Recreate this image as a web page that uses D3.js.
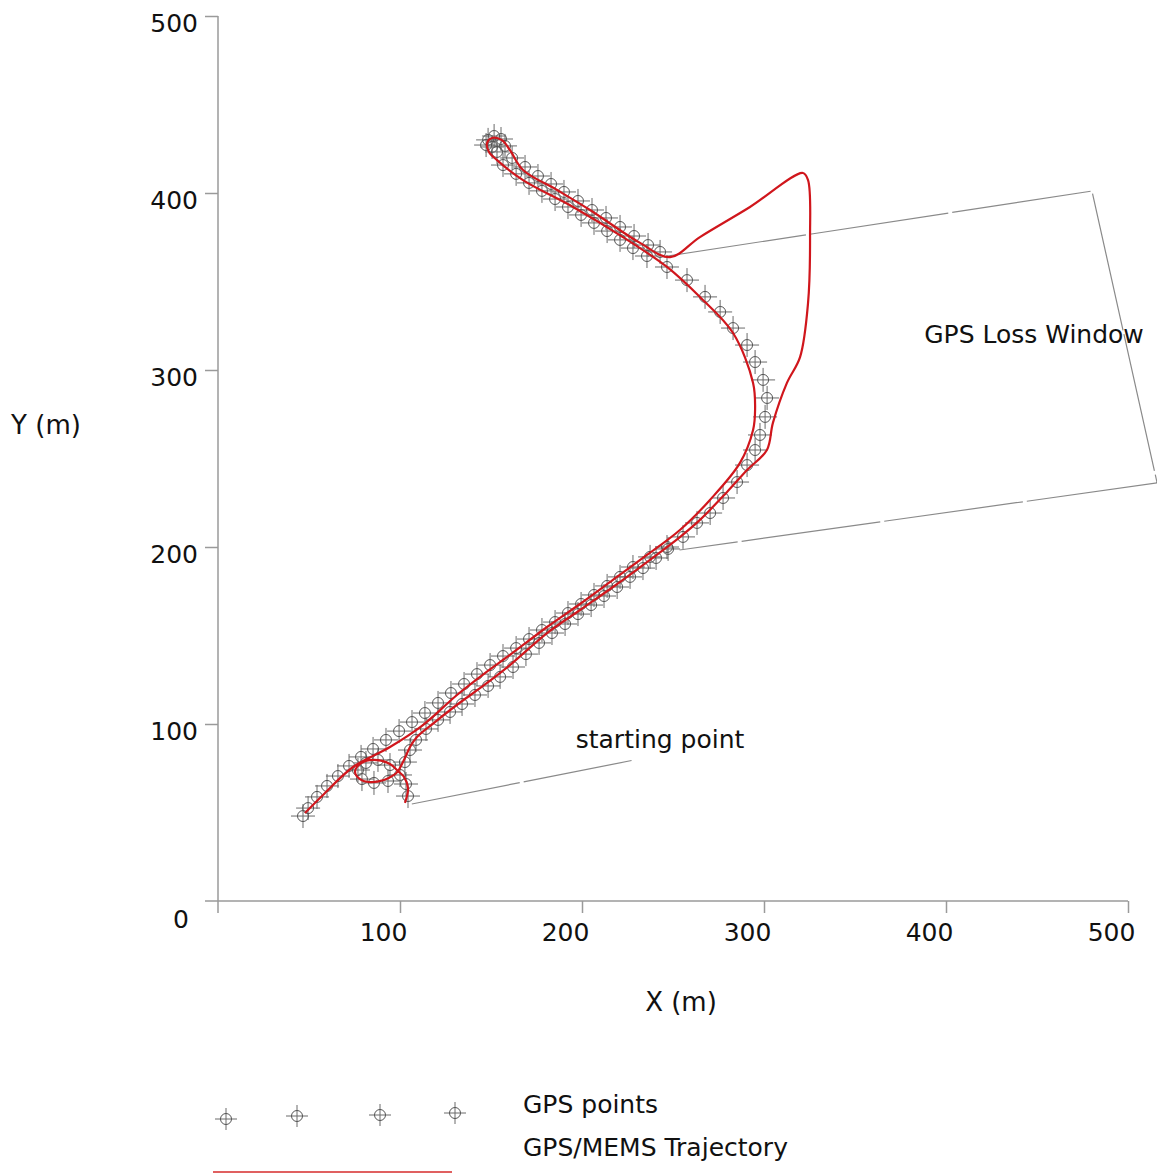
<!DOCTYPE html>
<html>
<head>
<meta charset="utf-8">
<script src="https://cdn.jsdelivr.net/npm/d3@7/dist/d3.min.js"></script>
<style>
  body { margin: 0; background: #fff; }
  text { font-family: "DejaVu Sans", Verdana, sans-serif; fill: #111; }
</style>
</head>
<body>
<svg id="chart" width="1157" height="1173"></svg>
<script>

// tick values on both axes
var xTicks = [100, 200, 300, 400, 500];
var yTicks = [100, 200, 300, 400, 500];

// GPS/MEMS trajectory (x, y in metres)
var memsTrajectory = [
  [102.7,55.4],[104.4,63.8],[102.2,70.1],[98.9,73.4],[94.5,77.4],[85.2,79.7],[78.0,77.4],
  [75.3,72.9],[78.0,68.9],[83.5,67.2],[91.2,68.4],[96.7,71.2],[98.9,73.4],[102.2,79.7],
  [105.5,87.0],[109.3,92.7],[119.2,101.1],[131.9,111.3],[145.6,121.5],[160.4,133.3],
  [180.8,151.4],[198.9,164.4],[217.0,177.4],[235.7,191.5],[253.8,205.6],[264.8,215.3],
  [279.7,231.1],[290.7,243.5],[301.6,254.8],[304.9,270.1],[312.6,292.7],[319.8,307.3],
  [324.2,337.9],[325.3,375.1],[324.2,407.3],[321.4,411.3],[292.3,392.1],[264.8,375.1],
  [248.4,363.8],[231.9,371.8],[204.4,390.4],[186.3,401.7],[167.6,413.0],[160.4,424.3],
  [156.0,429.9],[150.5,431.1],[147.8,428.2],[148.9,423.2],[153.3,418.6],[167.6,407.3],
  [195.1,392.1],[222.5,375.1],[246.7,358.2],[264.8,341.2],[283.0,320.9],[294.0,292.7],
  [295.1,277.4],[294.0,266.1],[286.8,247.5],[270.3,226.6],[253.8,209.6],[235.7,195.5],
  [217.0,181.4],[198.9,167.8],[180.8,154.8],[160.4,139.0],[146.7,128.8],[131.3,116.4],
  [112.6,99.4],[94.5,87.0],[74.2,75.7],[57.7,59.9],[47.8,49.7]
];

// GPS fixes on the way out, before the outage (start point + loop + lower track)
var gpsOutbound = [
  [104.4,59.3],[103.3,66.1],[100.0,71.2],[94.5,76.8],[87.9,79.7],[81.3,78.0],[76.9,74.0],
  [79.1,68.9],[85.7,66.7],[93.4,67.8],[102.7,78.5],[105.5,85.3],[108.8,91.0],[114.3,97.2],
  [120.9,102.3],[127.5,106.8],[134.1,111.3],[141.2,116.4],[148.4,121.5],[155.0,126.6],
  [162.1,132.2],[169.2,139.5],[176.4,145.8],[183.5,151.4],[190.7,156.5],[197.8,162.1],
  [205.0,167.2],[212.1,172.3],[219.3,177.4],[226.4,183.1],[233.5,188.1],[240.7,193.8],
  [247.3,198.9]
];

// GPS fixes after the outage, up to the turn
var gpsAfterLoss = [
  [242.9,366.7],[236.3,370.6],[228.6,375.7],[220.9,380.8],[213.2,385.9],[205.5,390.4],
  [197.8,395.5],[190.1,400.6],[183.0,405.1],[175.8,409.6],[168.7,414.7],[161.6,419.8]
];

// GPS fixes around the turn at the top
var gpsTurn = [
  [148.4,430.0],[151.7,432.2],[155.5,430.5],[157.7,426.6],[150.6,426.0],[153.3,423.2],[147.3,427.1]
];

// GPS fixes on the way back
var gpsReturn = [
  [156.6,415.8],[163.8,410.8],[170.9,405.7],[178.0,401.2],[185.2,396.6],[192.3,392.1],
  [199.5,387.6],[206.6,383.1],[213.8,378.5],[220.9,373.5],[228.0,368.9],[235.7,364.4],
  [246.7,358.2],[257.7,350.8],[267.6,341.3],[275.9,332.8],[283.0,323.7],[290.7,314.1],
  [295.1,304.5],[299.5,294.4],[301.7,284.2],[300.6,273.5],[297.8,263.3],[295.1,254.8],
  [290.7,246.3],[285.2,236.7],[277.5,227.7],[270.4,219.2],[263.2,213.6],[255.5,205.7],
  [246.7,200.0],[237.4,194.4],[228.0,188.7],[220.9,183.1],[213.8,178.0],[206.6,172.9],
  [199.5,167.8],[192.3,162.7],[185.2,157.6],[178.0,153.1],[170.9,148.0],[163.8,142.9],
  [156.6,138.4],[149.5,133.3],[142.3,128.2],[135.2,122.6],[128.0,117.5],[120.9,111.9],
  [113.7,106.2],[106.6,101.1],[99.5,96.0],[92.3,91.0],[85.2,85.9],[78.6,81.4],[72.0,76.3],
  [65.9,70.6],[59.9,65.0],[54.4,58.8],[49.5,52.5],[46.7,48.0]
];

// annotation geometry (data units)
var lossWindow = [[247.0,364.4],[480.2,401.1],[516.0,236.2],[253.6,198.3]];
var startLeader = [[106.5,54.8],[228.9,79.7]];

var svg = d3.select("#chart");

var x = d3.scaleLinear().domain([0, 500]).range([218, 1128]);
var y = d3.scaleLinear().domain([0, 500]).range([901, 16]);

var axisColor = "#9a9a9a";
var fontSize = "25px";

// axes
svg.append("line")
    .attr("x1", x(0)).attr("x2", x(0))
    .attr("y1", y(500)).attr("y2", y(0) + 12)
    .style("stroke", axisColor).style("stroke-width", 1.5);
svg.append("line")
    .attr("x1", x(0) - 13).attr("x2", x(500))
    .attr("y1", y(0)).attr("y2", y(0))
    .style("stroke", axisColor).style("stroke-width", 1.5);

var yAxis = svg.append("g")
    .attr("transform", "translate(" + x(0) + ",0)")
    .call(d3.axisLeft(y).tickValues(yTicks).tickSize(13).tickFormat(d3.format("d")));
yAxis.select(".domain").remove();
yAxis.selectAll(".tick line").style("stroke", axisColor).style("stroke-width", 1.5);
yAxis.selectAll(".tick text")
    .attr("x", -20).attr("dy", "0.6em")
    .style("font-size", fontSize).style("font-family", "DejaVu Sans").style("fill", "#111");

var xAxis = svg.append("g")
    .attr("transform", "translate(0," + y(0) + ")")
    .call(d3.axisBottom(x).tickValues(xTicks).tickSize(12).tickFormat(d3.format("d")));
xAxis.select(".domain").remove();
xAxis.selectAll(".tick line").style("stroke", axisColor).style("stroke-width", 1.5);
xAxis.selectAll(".tick text")
    .attr("x", -17).attr("y", 22)
    .style("font-size", fontSize).style("font-family", "DejaVu Sans").style("fill", "#111");

svg.append("text")
    .attr("x", x(0) - 37).attr("y", y(0) + 27)
    .attr("text-anchor", "middle")
    .style("font-size", fontSize)
    .text("0");

// axis titles
svg.append("text").attr("x", 46).attr("y", 434)
    .attr("text-anchor", "middle").style("font-size", "26px").text("Y (m)");
svg.append("text").attr("x", 681).attr("y", 1011)
    .attr("text-anchor", "middle").style("font-size", "26px").text("X (m)");

// GPS loss window and start leader
var lineGen = d3.line().x(function(d){ return x(d[0]); }).y(function(d){ return y(d[1]); });

svg.append("path")
    .attr("d", lineGen(lossWindow))
    .style("fill", "none").style("stroke", "#8a8a8a").style("stroke-width", 1.2)
    .style("stroke-dasharray", "140,4");

svg.append("path")
    .attr("d", lineGen(startLeader))
    .style("fill", "none").style("stroke", "#8a8a8a").style("stroke-width", 1.2)
    .style("stroke-dasharray", "110,4");

svg.append("text").attr("x", 1034).attr("y", 343)
    .attr("text-anchor", "middle").style("font-size", fontSize).text("GPS Loss Window");
svg.append("text").attr("x", 660).attr("y", 748)
    .attr("text-anchor", "middle").style("font-size", fontSize).text("starting point");

// GPS marker: circle with crosshair
function drawGps(sel, size) {
    sel.append("path")
        .attr("d", "M" + (-size) + ",0H" + size + "M0," + (-size) + "V" + size)
        .style("stroke", "#6a6a6a").style("stroke-width", 1);
    sel.append("circle")
        .attr("r", 5.5)
        .style("fill", "none").style("stroke", "#555").style("stroke-width", 1);
}

var allGps = gpsOutbound.concat(gpsAfterLoss, gpsTurn, gpsReturn);
svg.append("g").selectAll("g")
    .data(allGps)
    .enter().append("g")
    .attr("transform", function(d){ return "translate(" + x(d[0]) + "," + y(d[1]) + ")"; })
    .each(function(){ drawGps(d3.select(this), 12); });

// GPS/MEMS trajectory
svg.append("path")
    .attr("d", lineGen.curve(d3.curveCatmullRom.alpha(0.5))(memsTrajectory))
    .style("fill", "none").style("stroke", "#d0161c").style("stroke-width", 2.2);

// legend
var legendMarks = [[226,1119],[297,1116],[380,1115],[455,1113]];
svg.append("g").selectAll("g")
    .data(legendMarks)
    .enter().append("g")
    .attr("transform", function(d){ return "translate(" + d[0] + "," + d[1] + ")"; })
    .each(function(){ drawGps(d3.select(this), 11); });

svg.append("text").attr("x", 523).attr("y", 1113).style("font-size", fontSize).text("GPS points");
svg.append("text").attr("x", 523).attr("y", 1156).style("font-size", fontSize).text("GPS/MEMS Trajectory");
svg.append("line")
    .attr("x1", 213).attr("x2", 452).attr("y1", 1172).attr("y2", 1172)
    .style("stroke", "#e06060").style("stroke-width", 2);

</script>
</body>
</html>
